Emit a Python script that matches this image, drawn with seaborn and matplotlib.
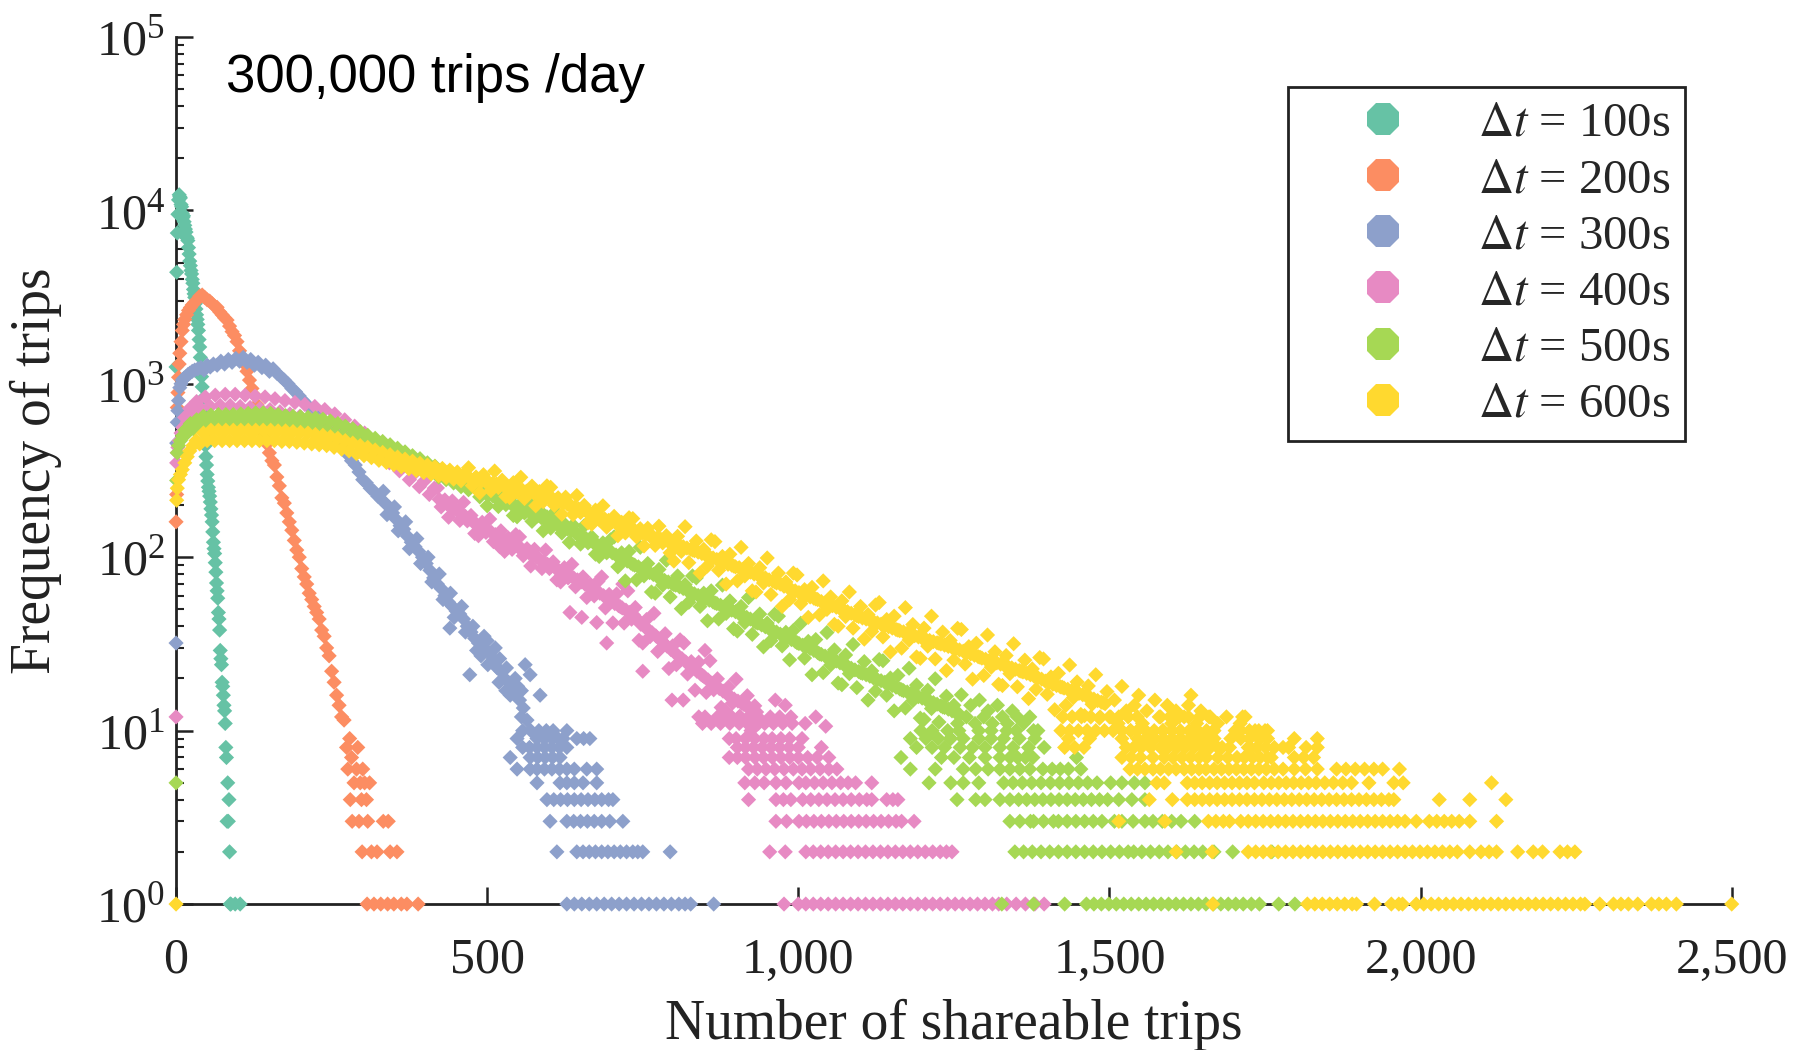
import matplotlib
matplotlib.use("Agg")
import matplotlib.pyplot as plt
from matplotlib.lines import Line2D
from matplotlib.ticker import NullFormatter, LogLocator, FixedLocator
import pandas as pd
import seaborn as sns

# ---------------- data ----------------
series_labels = [r"$\Delta t$ = 100s", r"$\Delta t$ = 200s", r"$\Delta t$ = 300s",
                 r"$\Delta t$ = 400s", r"$\Delta t$ = 500s", r"$\Delta t$ = 600s"]
series_colors = ["#66c2a5", "#fc8d62", "#8da0cb", "#e78ac3", "#a6d854", "#ffd92f"]

x_ticks = [0, 500, 1000, 1500, 2000, 2500]
x_tick_labels = ["0", "500", "1,000", "1,500", "2,000", "2,500"]

# body of each distribution: (number of shareable trips, frequency)
dt100_body = [(0, 1250), (1, 4400), (2, 7400), (3, 9500), (4, 11500), (5, 12300), (6, 12000), (7, 11800),
              (8, 10800), (9, 10500), (10, 9600), (11, 9100), (12, 9300), (13, 8600), (14, 8200), (15, 7800),
              (16, 7500), (17, 7000), (18, 6900), (19, 6700), (20, 6100), (21, 5600), (22, 5100), (23, 4800),
              (24, 4500), (25, 4300), (26, 4000), (27, 3800), (28, 3500), (29, 3300), (30, 3150), (31, 2900),
              (32, 2700), (33, 2500), (34, 2350), (35, 2200), (36, 2030), (37, 1800), (38, 1630), (39, 1420),
              (40, 1250), (41, 1100), (42, 960), (43, 820), (44, 675), (45, 590), (46, 515), (47, 440),
              (48, 380), (49, 340), (50, 300), (51, 275), (52, 253), (53, 240), (54, 225), (55, 208),
              (56, 190), (57, 175), (58, 160), (59, 140), (60, 122), (61, 112), (62, 105), (63, 93),
              (64, 82), (65, 71), (66, 64), (67, 58), (68, 48), (69, 44), (70, 38), (71, 29), (72, 26),
              (73, 24), (74, 19), (75, 18), (76, 16), (77, 14), (78, 13), (79, 11), (80, 8), (81, 7),
              (82, 3), (83, 5), (84, 3), (85, 4), (86, 2), (87, 1), (88, 1), (95, 1), (103, 1)]

dt200_body = [(0, 160), (1, 230), (2, 730), (3, 890), (4, 1090), (5, 1300), (6, 1500), (8, 1750), (10, 2030),
              (12, 2200), (14, 2350), (17, 2500), (20, 2650), (23, 2750), (26, 2850), (30, 2950), (34, 3050),
              (38, 3200), (42, 3250), (46, 3150), (50, 3050), (54, 3000), (58, 2900), (62, 2800), (66, 2760),
              (70, 2600), (74, 2500), (78, 2400), (82, 2330), (86, 2150), (90, 2000), (94, 1900), (98, 1750),
              (102, 1550), (106, 1420), (110, 1300), (114, 1180), (118, 1050), (122, 940), (126, 860),
              (130, 760), (134, 680), (138, 590), (142, 510), (146, 450), (150, 400), (154, 360), (158, 340),
              (162, 290), (166, 258), (170, 220), (174, 205), (178, 180), (182, 160), (186, 143), (190, 125),
              (194, 110), (198, 100), (202, 86), (206, 77), (210, 70), (214, 62), (218, 57), (222, 52),
              (226, 48), (230, 44), (234, 38), (238, 35), (242, 30), (246, 27), (250, 22), (254, 19),
              (258, 16), (262, 14), (266, 12), (270, 11.5)]

dt300_body = [(0, 32), (1, 455), (2, 600), (3, 700), (4, 800), (6, 950), (8, 1000), (10, 1050), (13, 1080),
              (16, 1100), (19, 1130), (22, 1150), (26, 1180), (30, 1200), (35, 1220), (40, 1240), (45, 1200),
              (50, 1280), (55, 1250), (60, 1300), (66, 1280), (72, 1350), (78, 1300), (84, 1380), (90, 1330),
              (96, 1400), (102, 1350), (108, 1420), (114, 1330), (120, 1380), (126, 1280), (132, 1330),
              (138, 1240), (144, 1280), (150, 1180), (156, 1220), (162, 1150), (168, 1100), (174, 1050),
              (180, 1000), (186, 940), (192, 900), (198, 850), (204, 800), (210, 760), (216, 720), (222, 680),
              (228, 640), (234, 600), (240, 570), (246, 540), (252, 500), (258, 480), (264, 450), (270, 420),
              (276, 390), (282, 360), (288, 340), (294, 310), (300, 280), (306, 268), (312, 250), (318, 240),
              (324, 225), (330, 215), (336, 205), (342, 195), (348, 180), (354, 165), (360, 152), (366, 145),
              (372, 132), (378, 122), (384, 115), (390, 108), (396, 100), (402, 92), (408, 84), (414, 76),
              (420, 70), (426, 66), (432, 60), (438, 55), (444, 52), (450, 49), (456, 47), (462, 44),
              (468, 40), (474, 37), (480, 34), (486, 32), (492, 30), (498, 29), (504, 28), (510, 26),
              (516, 23), (522, 22), (528, 20), (534, 19), (540, 18), (546, 16), (552, 15), (558, 13.5),
              (564, 11.5), (440, 39), (472, 21), (490, 27), (500, 33), (520, 26), (530, 17), (545, 20),
              (555, 17), (561, 24), (569, 21), (585, 16),
              (333, 240), (339, 176), (351, 195), (357, 142), (369, 160), (375, 112), (387, 128), (393, 92),
              (405, 100), (411, 72), (423, 80), (429, 57), (441, 62), (447, 45), (459, 52), (465, 37),
              (477, 40), (483, 29), (495, 35), (501, 24), (513, 30), (519, 19), (531, 23), (537, 16),
              (549, 18), (555, 12)]

dt400_body = [(0, 12), (1, 350), (2, 400), (3, 430), (5, 470), (8, 520), (11, 560), (14, 640), (18, 600),
              (22, 720), (27, 680), (33, 790), (40, 720), (47, 840), (55, 740), (63, 860), (71, 750),
              (79, 870), (87, 750), (95, 870), (103, 740), (111, 860), (119, 730), (127, 850), (135, 720),
              (143, 840), (151, 710), (159, 820), (167, 690), (175, 800), (183, 670), (191, 780), (199, 650),
              (207, 760), (215, 630), (223, 740), (231, 610), (239, 710), (247, 590), (255, 670), (263, 560),
              (271, 620), (279, 520), (287, 570), (295, 480), (303, 520), (311, 430), (319, 470), (327, 390),
              (335, 420), (343, 350), (351, 380), (359, 315), (367, 340), (375, 280), (383, 305), (391, 255),
              (399, 275), (407, 230), (415, 250),
              (420, 251), (426, 195), (432, 214), (438, 170), (444, 211), (450, 188), (456, 163), (462, 207),
              (468, 162), (474, 174), (480, 137), (486, 133), (492, 159), (498, 139), (504, 166), (510, 123),
              (516, 134), (522, 142), (528, 108), (534, 129), (540, 111), (546, 135), (552, 131), (558, 102),
              (564, 112), (570, 89), (576, 111), (582, 99), (588, 86), (594, 110), (600, 86), (606, 94),
              (612, 74), (618, 72), (624, 87), (630, 76), (636, 91), (642, 67.5), (648, 73), (654, 77),
              (660, 58.6), (666, 69.7), (672, 59.8), (678, 72.5), (684, 77), (690, 51), (696, 61),
              (702, 41.8), (708, 61.4), (714, 51.8), (720, 41.7), (726, 64), (732, 43.9), (738, 51.3),
              (744, 33.2), (750, 32), (756, 43.7), (762, 34.9), (768, 47.5), (774, 28.6), (780, 33),
              (786, 36.2), (792, 22.8), (798, 30.8), (804, 24), (810, 33.4), (816, 32), (822, 21.2),
              (828, 25), (834, 17.1), (840, 24.8), (846, 20.8), (852, 16.6), (858, 25.3), (864, 17.2),
              (870, 19.9), (876, 13.6), (882, 13.1), (888, 17.9), (894, 14.4), (900, 19.8), (906, 12.1),
              (912, 14.2), (918, 15.9), (924, 10), (930, 13.9), (936, 11),
              (520, 115), (633, 48), (652, 45), (676, 42), (692, 32), (718, 70), (750, 22), (797, 15),
              (815, 15), (850, 29), (963, 15), (979, 14), (1028, 12), (1044, 10.6)]

# band core of the 400s tail (middle of the pink band)
dt400_core = [(423, 215), (429, 209), (435, 203), (441, 197), (447, 191), (453, 185), (459, 178), (465, 172),
              (471, 166), (477, 160), (483, 155), (489, 151), (495, 147), (501, 143), (507, 139), (513, 135),
              (519, 132), (525, 128), (531, 125), (537, 122), (543, 119), (549, 115), (555, 112), (561, 109),
              (567, 106), (573, 103), (579, 100), (585, 97), (591, 94), (597, 91), (603, 89), (609, 87),
              (615, 84), (621, 82), (627, 80), (633, 78), (639, 76), (645, 74), (651, 72), (657, 70), (663, 68),
              (669, 66), (675, 64), (681, 62), (687, 60), (693, 58), (699, 56), (705, 54), (711, 52.6),
              (717, 51), (723, 49.5), (729, 48), (735, 46.5), (741, 44), (747, 41), (753, 39.7), (759, 38.2),
              (765, 36.7), (771, 35.2), (777, 33.7), (783, 32.2), (789, 30.7), (795, 29.4), (801, 28.2),
              (807, 27), (813, 26), (819, 24.9), (825, 23.9), (831, 23), (837, 22), (843, 21.2), (849, 20.4),
              (855, 19.6), (861, 18.8), (867, 18.1), (873, 17.5), (879, 16.9), (885, 16.3), (891, 15.7),
              (897, 15.2), (903, 14.8), (909, 14.4), (915, 14), (921, 13.6), (927, 13.2), (933, 12.8)]

dt500_body = [(0, 5), (1, 277), (2, 400), (4, 440), (7, 470), (10, 500), (14, 540), (18, 520), (23, 590),
              (28, 550), (33, 620), (38, 570), (44, 650), (50, 580), (56, 660), (62, 590), (68, 665),
              (74, 590), (80, 665), (86, 590), (92, 665), (98, 595), (104, 670), (110, 595), (116, 675),
              (122, 600), (128, 680), (134, 600), (140, 680), (146, 600), (152, 675), (158, 595), (164, 665),
              (170, 585), (176, 655), (182, 575), (188, 650), (194, 570), (200, 645), (206, 565), (212, 640),
              (218, 560), (224, 635), (230, 550), (236, 625), (242, 540), (248, 610), (254, 525), (260, 590),
              (266, 505), (272, 570), (278, 490), (284, 550), (290, 475), (296, 530), (302, 455), (308, 505),
              (314, 440), (320, 485), (326, 420), (332, 465), (338, 405), (344, 445), (350, 385), (356, 425),
              (362, 370), (368, 405), (374, 350), (380, 385), (386, 335), (392, 370), (398, 320), (404, 350),
              (410, 305), (416, 335), (422, 290), (428, 320), (434, 280), (440, 305), (446, 268), (452, 292),
              (458, 255), (464, 280), (470, 245), (476, 268),
              (482, 284), (488, 223), (494, 246), (500, 198), (506, 249), (512, 223), (518, 196), (524, 251),
              (530, 201), (536, 218), (542, 174), (548, 171), (554, 204), (560, 180), (566, 216), (572, 161),
              (578, 175), (584, 186), (590, 142), (596, 171), (602, 147), (608, 181), (614, 177), (620, 138),
              (626, 153), (632, 122), (638, 153), (644, 136), (650, 119), (656, 152), (662, 121), (668, 131),
              (674, 104), (680, 101), (686, 121), (692, 106), (698, 126), (704, 131), (710, 88), (716, 106),
              (722, 73), (728, 108), (734, 91), (740, 74), (746, 114), (752, 78), (758, 92), (764, 63),
              (770, 62), (776, 85), (782, 69), (788, 96), (794, 59), (800, 69.5), (806, 78), (812, 50.5),
              (818, 69.5), (824, 55), (830, 78), (836, 76), (842, 52), (848, 62), (854, 43), (860, 64),
              (866, 54.5), (872, 44), (878, 69), (884, 47.4), (890, 56), (896, 38.7), (902, 37.5), (908, 52),
              (914, 42), (920, 58.5), (926, 35.9), (932, 42), (938, 47), (944, 30.4), (950, 41.7), (956, 33),
              (962, 46.9), (968, 45.7), (974, 30.8), (980, 36.9), (986, 25.6), (992, 37.8), (998, 32.1),
              (1004, 41.6), (1010, 26.2), (1016, 32.7), (1022, 21), (1028, 33.5), (1034, 27.7), (1040, 21.6),
              (1046, 36.8), (1052, 23.9), (1058, 29.2), (1064, 18.8), (1070, 18.4), (1076, 27.3),
              (1082, 21.3), (1088, 31.4), (1094, 17.7), (1100, 21.6), (1106, 25), (1112, 15), (1118, 22.1),
              (1124, 16.9), (1130, 25.7), (1136, 25.3), (1142, 16), (1148, 20.1), (1154, 13), (1160, 20.8),
              (1166, 17.2), (1172, 13.5), (1178, 22.9), (1184, 14.9), (1190, 18.3), (1196, 11.8),
              (1202, 11.6), (1208, 17.1), (1214, 13.4), (1220, 19.9), (1226, 11.2), (1232, 13.7),
              (1238, 15.8), (1244, 9), (1250, 14), (1256, 11), (1262, 16.1), (1270, 12), (1277, 14),
              (1284, 11), (1291, 15), (1298, 12), (1305, 13), (1312, 11), (1320, 14), (1328, 12), (1336, 11),
              (1344, 13), (1352, 12), (1362, 11), (1372, 12), (1385, 10)]

# band core of the 500s tail
dt500_core = [(485, 244), (491, 240), (497, 235), (503, 231), (509, 226), (515, 221), (521, 216), (527, 211),
              (533, 207), (539, 202), (545, 198), (551, 194), (557, 189), (563, 185), (569, 181), (575, 177),
              (581, 173), (587, 169), (593, 166), (599, 162), (605, 159), (611, 156), (617, 152), (623, 149),
              (629, 146), (635, 142), (641, 139), (647, 135), (653, 131), (659, 128), (665, 124), (671, 121),
              (677, 118), (683, 115), (689, 112), (695, 109), (701, 106), (707, 103), (713, 100), (719, 97),
              (725, 95), (731, 92.5), (737, 90), (743, 88), (749, 85.5), (755, 83.5), (761, 81.5), (767, 79.5),
              (773, 77.5), (779, 75.5), (785, 73.5), (791, 72), (797, 70.5), (803, 69), (809, 67.5), (815, 66),
              (821, 64.5), (827, 63), (833, 61.5), (839, 60.2), (845, 59), (851, 57.8), (857, 56.5),
              (863, 55.2), (869, 54), (875, 52.8), (881, 51.5), (887, 50.5), (893, 49.5), (899, 48.5),
              (905, 47.2), (911, 46), (917, 45), (923, 44), (929, 42.8), (935, 41.7), (941, 40.7), (947, 39.7),
              (953, 38.7), (959, 37.8), (965, 37), (971, 36), (977, 35.2), (983, 34.3), (989, 33.5),
              (995, 32.7), (1001, 31.8), (1007, 31.1), (1013, 30.6), (1019, 29.8), (1025, 29), (1031, 28.2),
              (1037, 27.5), (1043, 26.9), (1049, 26.3), (1055, 25.8), (1061, 25.2), (1067, 24.6), (1073, 24),
              (1079, 23.5), (1085, 22.9), (1091, 22.4), (1097, 21.9), (1103, 21.4), (1109, 21), (1115, 20.6),
              (1121, 20.1), (1127, 19.7), (1133, 19.4), (1139, 19), (1145, 18.6), (1151, 18.2), (1157, 17.8),
              (1163, 17.4), (1169, 17), (1175, 16.7), (1181, 16.4), (1187, 16), (1193, 15.7), (1199, 15.4),
              (1205, 15.1), (1211, 14.8), (1217, 14.5), (1223, 14.2), (1229, 13.9), (1235, 13.6), (1241, 13.3),
              (1247, 13), (1253, 12.7), (1259, 12.4)]

dt600_body = [(0, 1), (1, 213), (2, 250), (4, 280), (7, 300), (10, 320), (14, 350), (18, 380), (22, 410),
              (27, 440), (32, 470), (38, 450), (44, 520), (50, 470), (56, 540), (62, 470), (68, 540),
              (74, 470), (80, 540), (86, 470), (92, 540), (98, 470), (104, 540), (110, 470), (116, 540),
              (122, 470), (128, 540), (134, 470), (140, 540), (146, 470), (152, 540), (158, 470), (164, 535),
              (170, 465), (176, 535), (182, 465), (188, 530), (194, 460), (200, 525), (206, 455), (212, 520),
              (218, 450), (224, 510), (230, 445), (236, 505), (242, 440), (248, 495), (254, 430), (260, 485),
              (266, 420), (272, 470), (278, 410), (284, 455), (290, 395), (296, 440), (302, 385), (308, 430),
              (314, 375), (320, 415), (326, 362), (332, 402), (338, 352), (344, 390), (350, 342), (356, 378),
              (362, 332), (368, 368), (374, 324), (380, 358), (386, 316), (392, 348), (398, 308), (404, 340),
              (410, 302), (416, 332), (422, 295), (428, 325), (434, 288), (440, 318), (446, 282), (452, 310),
              (458, 276), (464, 302),
              (470, 328), (476, 259), (482, 290), (488, 235), (494, 299), (500, 272), (506, 242), (512, 314),
              (518, 252), (524, 278), (530, 224), (536, 221), (542, 269), (548, 238), (554, 289), (560, 218),
              (566, 239), (572, 257), (578, 198), (584, 239), (590, 209), (596, 258), (602, 253), (608, 199),
              (614, 220), (620, 177), (626, 222), (632, 200), (638, 176), (644, 227), (650, 181), (656, 199),
              (662, 158), (668, 155), (674, 187), (680, 164), (686, 198), (692, 149), (698, 161), (704, 172),
              (710, 133), (716, 159), (722, 138), (728, 169), (734, 167), (740, 131), (746, 146), (752, 116),
              (758, 147), (764, 132), (770, 117), (776, 151), (782, 121), (788, 133), (794, 106), (800, 95),
              (806, 132), (812, 108), (818, 150), (824, 93), (830, 110), (836, 124), (842, 81), (848, 111),
              (854, 89), (860, 126), (866, 123), (872, 84), (878, 101), (884, 70), (890, 104), (896, 89),
              (902, 73), (908, 114), (914, 78), (920, 92), (926, 64), (932, 63), (938, 87), (944, 71),
              (950, 99), (956, 61), (962, 72), (968, 81), (974, 52), (980, 72), (986, 57), (992, 81), (998, 79),
              (1004, 54), (1010, 65), (1016, 45), (1022, 67), (1028, 57.5), (1034, 46.5), (1040, 73),
              (1046, 50), (1052, 59), (1058, 41), (1064, 40), (1070, 56), (1076, 45.5), (1082, 63), (1088, 39),
              (1094, 46), (1100, 52), (1106, 33.7), (1112, 46.7), (1118, 37.3), (1124, 53), (1130, 54.8),
              (1136, 34.7), (1142, 43.7), (1148, 28.4), (1154, 45.7), (1160, 38), (1166, 29.9), (1172, 51.2),
              (1178, 33.3), (1184, 40.9), (1190, 26.6), (1196, 26.1), (1202, 39), (1208, 30.7), (1214, 45.7),
              (1220, 25.9), (1226, 31.9), (1232, 37), (1238, 22.2), (1244, 33.1), (1250, 25.5), (1256, 38.9),
              (1262, 38.3), (1268, 24.2), (1274, 30.5), (1280, 19.8), (1286, 31.9), (1292, 26.5),
              (1298, 20.8), (1304, 35.6), (1310, 23.2), (1316, 28.5), (1322, 18.5), (1328, 18.2), (1334, 27.1),
              (1340, 21.3), (1346, 31.7), (1352, 17.9), (1358, 22), (1364, 25.5), (1370, 15.3), (1376, 22.7),
              (1382, 17.3), (1388, 26.4), (1394, 25.9), (1400, 16.2), (1406, 20.4), (1412, 13.2),
              (1418, 21.4), (1424, 17.8), (1430, 14), (1436, 23.9), (1442, 15.5), (1448, 19.1), (1454, 12.4),
              (1460, 12.2), (1466, 18.1), (1472, 14.2), (1478, 21), (1484, 11.8), (1490, 14.5), (1496, 16.8),
              (1502, 12), (1508, 15), (1514, 11), (1520, 18), (1527, 13), (1534, 10), (1540, 14), (1547, 16),
              (1553, 11), (1560, 13), (1566, 9), (1573, 15), (1580, 12), (1586, 10), (1593, 14), (1600, 11),
              (1607, 13), (1614, 9), (1620, 12), (1627, 14), (1631, 16), (1633, 10), (1640, 11), (1647, 13),
              (1653, 9), (1660, 12), (1667, 10), (1674, 11), (1681, 8), (1688, 12), (1695, 9), (1702, 10),
              (1710, 11), (1718, 12), (1726, 8), (1734, 10), (1742, 9), (1750, 10), (1760, 7)]

# band core of the 600s tail
dt600_core = [(473, 284), (479, 281), (485, 278), (491, 275), (497, 273), (503, 270), (509, 267), (515, 264),
              (521, 261), (527, 258), (533, 255), (539, 252), (545, 249), (551, 246), (557, 243), (563, 240),
              (569, 237), (575, 234), (581, 231), (587, 228), (593, 225), (599, 222), (605, 218), (611, 214),
              (617, 210), (623, 206), (629, 202), (635, 198), (641, 194), (647, 190), (653, 187), (659, 184),
              (665, 180), (671, 176), (677, 173), (683, 169), (689, 166), (695, 163), (701, 160), (707, 157),
              (713, 154), (719, 151), (725, 148), (731, 146), (737, 143), (743, 141), (749, 138), (755, 136),
              (761, 133), (767, 131), (773, 129), (779, 127), (785, 125), (791, 123), (797, 121), (803, 119),
              (809, 117), (815, 115), (821, 113), (827, 111), (833, 109), (839, 107), (845, 105), (851, 103),
              (857, 101), (863, 99), (869, 97), (875, 95), (881, 93), (887, 91), (893, 90), (899, 88),
              (905, 87), (911, 85), (917, 83), (923, 82), (929, 80), (935, 79), (941, 77), (947, 76), (953, 74),
              (959, 73), (965, 71), (971, 70), (977, 68), (983, 67), (989, 65), (995, 64), (1001, 62.5),
              (1007, 61.5), (1013, 60), (1019, 59), (1025, 58), (1031, 57), (1037, 55.5), (1043, 54.5),
              (1049, 53.5), (1055, 52.5), (1061, 51.5), (1067, 50.5), (1073, 49.5), (1079, 48.5), (1085, 47.5),
              (1091, 46.5), (1097, 45.5), (1103, 44.6), (1109, 44), (1115, 43.2), (1121, 42.5), (1127, 41.8),
              (1133, 41.1), (1139, 40.4), (1145, 39.7), (1151, 39), (1157, 38.3), (1163, 37.7), (1169, 37.1),
              (1175, 36.5), (1181, 35.9), (1187, 35.3), (1193, 34.7), (1199, 34.1), (1205, 33.6), (1211, 33.1),
              (1217, 32.6), (1223, 32.1), (1229, 31.6), (1235, 31.1), (1241, 30.6), (1247, 30.2), (1253, 29.7),
              (1259, 29.2), (1265, 28.7), (1271, 28.2), (1277, 27.7), (1283, 27.2), (1289, 26.7), (1295, 26.2),
              (1301, 25.8), (1307, 25.4), (1313, 25), (1319, 24.6), (1325, 24.2), (1331, 23.8), (1337, 23.4),
              (1343, 23), (1349, 22.6), (1355, 22.2), (1361, 21.8), (1367, 21.4), (1373, 21), (1379, 20.6),
              (1385, 20.2), (1391, 19.8), (1397, 19.3), (1403, 18.9), (1409, 18.5), (1415, 18.2), (1421, 17.9),
              (1427, 17.6), (1433, 17.3), (1439, 17), (1445, 16.7), (1451, 16.4), (1457, 16.1), (1463, 15.8),
              (1469, 15.5), (1475, 15.2), (1481, 14.9), (1487, 14.6), (1493, 14.3)]

# sparse tails: frequency -> list of numbers of shareable trips
dt200_tail = {9: [279], 8: [274, 292], 7: [282], 6: [276, 290, 300], 5: [286, 296, 303, 311],
              4: [280, 298, 306], 3: [283, 294, 308, 333, 341], 2: [299, 314, 323, 344, 355],
              1: [307, 318, 329, 340, 350, 362, 371, 389]}

dt300_tail = {10: [557, 570, 583, 595, 606, 628],
              9: [548, 580, 592, 604, 614, 622, 644, 655, 665],
              8: [557, 568, 580, 592, 604, 616, 628],
              7: [537, 569, 581, 593, 605, 617],
              6: [548, 569, 580, 592, 604, 616, 628, 640, 660, 676],
              5: [580, 617, 628, 640, 654, 676],
              4: [596, 607, 618, 629, 640, 651, 662, 673, 684, 695, 702],
              3: [601, 628, 639, 650, 661, 672, 684, 697, 718],
              2: [612, 644, 654, 664, 674, 684, 694, 704, 714, 724, 734, 742, 750, 794],
              1: [628, 640, 652, 664, 676, 688, 700, 712, 724, 736, 748, 760, 772, 784, 796, 808, 818, 827, 864]}

dt400_tail = {12: [840, 850, 870, 880, 893, 905, 920, 935, 955, 970, 988],
              11: [846, 860, 875, 890, 905, 918, 932, 946, 960, 975, 990, 1011],
              9: [889, 900, 915, 930, 945, 958, 972, 986, 1006],
              8: [902, 915, 928, 942, 956, 970, 985, 1000, 1037],
              7: [889, 902, 915, 930, 944, 958, 972, 986, 1000, 1015, 1030, 1049],
              6: [920, 934, 948, 962, 977, 992, 1006, 1020, 1035, 1049, 1062],
              5: [914, 930, 945, 964, 980, 1001, 1012, 1026, 1040, 1054, 1068, 1080, 1092, 1118],
              4: [920, 964, 976, 988, 1007, 1020, 1033, 1046, 1059, 1072, 1085, 1098, 1110, 1118, 1142, 1152, 1160],
              3: [964, 981, 1001, 1013, 1025, 1037, 1049, 1061, 1073, 1085, 1097, 1109, 1121, 1133, 1145, 1157,
                  1166, 1186],
              2: [954, 979, 1012, 1024, 1036, 1048, 1060, 1072, 1084, 1096, 1108, 1120, 1132, 1144, 1156, 1168,
                  1180, 1192, 1204, 1216, 1228, 1238, 1247],
              1: [977, 1000, 1012, 1024, 1036, 1048, 1060, 1072, 1084, 1096, 1108, 1120, 1132, 1144, 1156, 1168,
                  1180, 1192, 1204, 1216, 1228, 1240, 1252, 1264, 1276, 1288, 1300, 1312, 1322, 1335, 1350, 1365,
                  1380, 1395]}

dt500_tail = {10: [1197, 1215, 1240, 1258, 1290, 1310, 1335, 1350, 1378],
              9: [1180, 1205, 1225, 1245, 1265, 1290, 1310, 1330, 1355, 1380],
              8: [1190, 1215, 1235, 1260, 1280, 1300, 1324, 1345, 1370, 1395],
              7: [1165, 1230, 1250, 1275, 1300, 1324, 1340, 1352, 1365, 1377, 1447],
              6: [1180, 1220, 1265, 1285, 1305, 1324, 1340, 1356, 1372, 1393, 1408, 1421, 1434, 1454],
              5: [1210, 1245, 1265, 1290, 1330, 1345, 1360, 1375, 1390, 1405, 1420, 1435, 1450, 1465, 1480, 1502,
                  1520, 1540, 1557],
              4: [1255, 1285, 1300, 1324, 1340, 1354, 1367, 1380, 1393, 1406, 1419, 1432, 1445, 1458, 1471, 1484,
                  1497, 1515, 1536, 1557],
              3: [1340, 1356, 1373, 1378, 1394, 1410, 1418, 1432, 1446, 1460, 1474, 1488, 1508, 1520, 1538, 1557,
                  1570, 1585, 1600, 1615, 1637],
              2: [1348, 1362, 1376, 1390, 1404, 1418, 1432, 1446, 1460, 1474, 1488, 1502, 1516, 1530, 1539, 1552,
                  1566, 1580, 1594, 1608, 1622, 1636, 1650, 1668, 1698, 1761],
              1: [1327, 1378, 1428, 1463, 1475, 1487, 1499, 1511, 1523, 1535, 1547, 1559, 1571, 1583, 1595, 1607,
                  1619, 1631, 1643, 1655, 1667, 1679, 1691, 1703, 1715, 1728, 1741, 1772, 1798]}

dt600_tail = {12: [1425, 1440, 1455, 1470, 1485, 1500, 1515, 1530, 1545, 1582, 1597, 1612, 1627, 1645, 1662, 1714],
              10: [1422, 1436, 1450, 1464, 1478, 1492, 1506, 1520, 1534, 1545, 1558, 1572, 1586, 1600, 1614, 1628,
                   1642, 1656, 1668, 1711, 1725, 1740, 1754],
              9: [1434, 1468, 1520, 1545, 1559, 1573, 1587, 1601, 1615, 1629, 1643, 1657, 1668, 1711, 1725, 1740,
                  1754, 1797, 1834],
              8: [1428, 1444, 1459, 1527, 1539, 1551, 1566, 1582, 1594, 1608, 1622, 1636, 1650, 1662, 1674, 1693,
                  1723, 1737, 1751, 1765, 1779, 1788, 1816, 1834],
              7: [1520, 1535, 1550, 1570, 1588, 1602, 1616, 1630, 1644, 1656, 1674, 1690, 1705, 1717, 1730, 1742,
                  1754, 1797, 1812, 1828],
              6: [1533, 1545, 1557, 1570, 1582, 1595, 1607, 1620, 1632, 1644, 1655, 1668, 1680, 1692, 1704, 1716,
                  1728, 1740, 1752, 1765, 1779, 1797, 1815, 1834, 1865, 1880, 1895, 1910, 1925, 1939, 1966],
              5: [1576, 1588, 1625, 1637, 1649, 1661, 1673, 1685, 1697, 1709, 1721, 1733, 1748, 1760, 1772, 1784,
                  1796, 1808, 1820, 1832, 1846, 1860, 1875, 1889, 1917, 1957, 1972, 2114],
              4: [1564, 1601, 1625, 1637, 1649, 1661, 1673, 1685, 1697, 1709, 1721, 1733, 1745, 1757, 1769, 1781,
                  1793, 1805, 1817, 1829, 1841, 1853, 1865, 1877, 1889, 1901, 1913, 1925, 1937, 1949, 1957, 2030,
                  2079, 2137],
              3: [1515, 1589, 1659, 1671, 1683, 1693, 1711, 1723, 1735, 1747, 1759, 1771, 1783, 1795, 1807, 1819,
                  1831, 1843, 1855, 1867, 1879, 1891, 1903, 1915, 1927, 1939, 1951, 1963, 1975, 1993, 2014, 2026,
                  2038, 2050, 2062, 2079, 2122],
              2: [1607, 1665, 1723, 1735, 1747, 1759, 1771, 1783, 1795, 1807, 1819, 1831, 1843, 1855, 1867, 1879,
                  1891, 1903, 1915, 1927, 1939, 1951, 1963, 1975, 1987, 1999, 2011, 2023, 2035, 2047, 2059, 2079,
                  2097, 2110, 2122, 2156, 2181, 2196, 2224, 2236, 2248],
              1: [1666, 1818, 1830, 1842, 1854, 1866, 1878, 1890, 1897, 1926, 1953, 1965, 1971, 1993, 2005, 2017,
                  2029, 2041, 2053, 2065, 2077, 2089, 2101, 2113, 2125, 2137, 2149, 2161, 2173, 2185, 2197, 2209,
                  2221, 2233, 2245, 2257, 2264, 2288, 2310, 2322, 2334, 2349, 2371, 2383, 2395, 2411, 2500]}

bodies = [dt100_body, dt200_body, dt300_body, dt400_body + dt400_core,
          dt500_body + dt500_core, dt600_body + dt600_core]
tails = [{}, dt200_tail, dt300_tail, dt400_tail, dt500_tail, dt600_tail]

# ---------------- long table ----------------
rows = []
for lab, body, tail in zip(series_labels, bodies, tails):
    for xv, yv in body:
        rows.append((lab, xv, yv))
    for count, xs in tail.items():
        for xv in xs:
            rows.append((lab, xv, count))
df = pd.DataFrame(rows, columns=["series", "trips", "freq"])

# ---------------- style ----------------
sns.set_style("ticks")
plt.rcParams["font.family"] = ["Liberation Serif", "DejaVu Serif"]
plt.rcParams["mathtext.fontset"] = "stix"

fig = plt.figure(figsize=(18.02, 10.5), dpi=100)
ax = fig.add_axes([0.0977, 0.139, 0.961 - 0.0977, 0.9648 - 0.139])

sns.scatterplot(data=df, x="trips", y="freq", hue="series", hue_order=series_labels,
                palette=series_colors, marker="D", s=60, linewidth=0, legend=False,
                clip_on=False, zorder=3, ax=ax)

ax.set_yscale("log")
ax.set_xlim(0, 2500)
ax.set_ylim(1, 1e5)
ax.xaxis.set_major_locator(FixedLocator(x_ticks))
ax.set_xticklabels(x_tick_labels)
ax.yaxis.set_major_locator(LogLocator(base=10, numticks=10))
ax.yaxis.set_minor_locator(LogLocator(base=10, subs=range(2, 10), numticks=20))
ax.yaxis.set_minor_formatter(NullFormatter())

for side in ["top", "right"]:
    ax.spines[side].set_visible(False)
for side in ["left", "bottom"]:
    ax.spines[side].set_linewidth(2.0)
    ax.spines[side].set_color("#222222")

ax.tick_params(axis="both", which="major", direction="in", length=12, width=1.8,
               labelsize=36, colors="#222222", labelcolor="#222222")
ax.tick_params(axis="y", which="minor", direction="in", length=6, width=1.5, colors="#222222")
ax.tick_params(axis="x", which="major", pad=24)
ax.tick_params(axis="y", which="major", pad=8)

ax.set_xlabel("Number of shareable trips", fontsize=40, color="#222222", labelpad=11)
ax.set_ylabel("Frequency of trips", fontsize=40, color="#222222", labelpad=24)

ax.text(0.032, 0.953, "300,000 trips /day", transform=ax.transAxes, fontsize=38,
        family=["Liberation Sans", "DejaVu Sans"], va="center", ha="left", color="black")

handles = [Line2D([], [], marker="8", linestyle="", markersize=25, color=c, markeredgewidth=0)
           for c in series_colors]
leg = ax.legend(handles, series_labels, loc="upper right", bbox_to_anchor=(0.970, 0.942),
                borderaxespad=0, fontsize=35, frameon=True, fancybox=False, framealpha=1,
                edgecolor="#222222", handlelength=3.3, handletextpad=0.31, labelspacing=0.25,
                borderpad=0.3)
leg.get_frame().set_linewidth(2.0)

fig.savefig("out.png", dpi=100)
